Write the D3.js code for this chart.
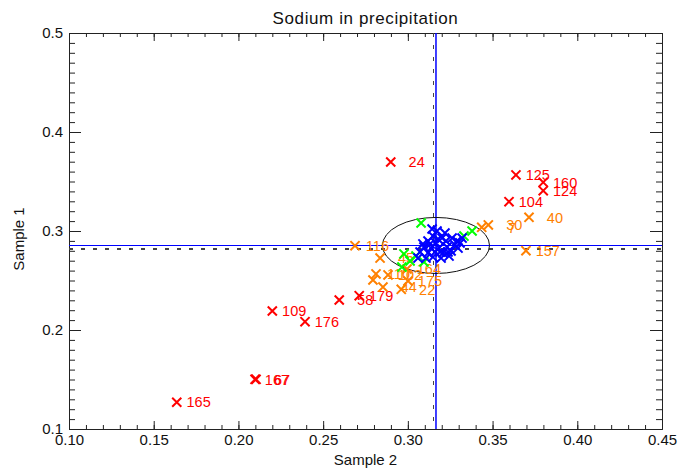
<!DOCTYPE html>
<html>
<head>
<meta charset="utf-8">
<script src="https://cdn.jsdelivr.net/npm/d3@7"></script>
<style>
  html, body { margin: 0; padding: 0; background: #fff; }
  svg { display: block; font-family: "Liberation Sans", Arial, sans-serif; }
</style>
</head>
<body>
<svg id="chart" width="679" height="470"></svg>
<script>
// ---- text ----
const chartTitle = "Sodium in precipitation";
const xTitle = "Sample 2";
const yTitle = "Sample 1";

// ---- axis ticks ----
const xMajor = [0.10, 0.15, 0.20, 0.25, 0.30, 0.35, 0.40, 0.45];
const xMinor = d3.range(10, 46).map(v => v / 100);
const yMajor = [0.1, 0.2, 0.3, 0.4, 0.5];
const yMinor = d3.range(10, 51).map(v => v / 100);

// ---- red samples (labelled) ----
const redIds = ["24", "165", "167", "67", "109", "176", "58", "179", "104", "125", "160", "124"];
const redX = [0.2899, 0.1636, 0.2098, 0.2104, 0.2200, 0.2393, 0.2595, 0.2713, 0.3597, 0.3638, 0.3799, 0.3799];
const redY = [0.3697, 0.1270, 0.1502, 0.1502, 0.2192, 0.2084, 0.2303, 0.2347, 0.3296, 0.3566, 0.3492, 0.3407];

// ---- orange samples (labelled, "" = no label) ----
const orangeIds = ["116", "45", "110", "102", "164", "175", "44", "22", "", "30", "7", "40", "157"];
const orangeX = [0.2688, 0.2836, 0.2812, 0.2883, 0.2995, 0.3001, 0.2853, 0.2961, 0.2794, 0.3475, 0.3436, 0.3715, 0.3697];
const orangeY = [0.2852, 0.2727, 0.2566, 0.2556, 0.2616, 0.2495, 0.2434, 0.2411, 0.2505, 0.3061, 0.3037, 0.3138, 0.2801];

// ---- green samples ----
const greenX = [0.3078, 0.2977, 0.3013, 0.3048, 0.3095, 0.2965, 0.3331, 0.3379];
const greenY = [0.3081, 0.2768, 0.2697, 0.2747, 0.2687, 0.2636, 0.2949, 0.3000];

// ---- blue samples ----
const blueX = [0.3172, 0.3148, 0.3202, 0.3119, 0.3166, 0.3225, 0.3261, 0.3290, 0.3095, 0.3137, 0.3184,
               0.3231, 0.3278, 0.3308, 0.3072, 0.3119, 0.3160, 0.3207, 0.3255, 0.3296, 0.3107, 0.3148,
               0.3196, 0.3243, 0.3131, 0.3178, 0.3219, 0.3089, 0.3143, 0.3237, 0.3320, 0.3060, 0.3190];
const blueY = [0.3000, 0.2949, 0.2929, 0.2899, 0.2879, 0.2899, 0.2929, 0.2899, 0.2838, 0.2828, 0.2828,
               0.2838, 0.2859, 0.2879, 0.2788, 0.2778, 0.2788, 0.2778, 0.2798, 0.2828, 0.2727, 0.2737,
               0.2727, 0.2747, 0.2869, 0.2919, 0.2980, 0.2869, 0.3020, 0.2788, 0.2929, 0.2727, 0.2788];

// ---- reference lines and ellipse ----
const meanX = 0.3166, meanY = 0.2854;
const medianX = 0.3150, medianY = 0.2818;
const ellipseRx = 0.0316, ellipseRy = 0.0283;

// ---- layout ----
const svg = d3.select("#chart");
const plotLeft = 69, plotRight = 662, plotTop = 33, plotBottom = 429;

const x = d3.scaleLinear().domain([0.10, 0.45]).range([plotLeft, plotRight]);
const y = d3.scaleLinear().domain([0.1, 0.5]).range([plotBottom, plotTop]);

const axisColor = "#222";
const majorX = 8, minorX = 4, majorY = 12, minorY = 6;

function styleAxis(g) {
  g.selectAll("path.domain").attr("stroke", axisColor).attr("stroke-width", 1);
  g.selectAll(".tick line").attr("stroke", axisColor).attr("stroke-width", 1);
  g.selectAll(".tick text").attr("fill", "#111").attr("font-size", 15)
    .attr("font-family", "'Liberation Sans', Arial, sans-serif");
}

// bottom axis: labelled major ticks + minor ticks, pointing inward
svg.append("g").attr("transform", `translate(0,${plotBottom})`)
  .call(d3.axisBottom(x).tickValues(xMinor).tickSize(-minorX).tickSizeOuter(0).tickFormat(""))
  .call(styleAxis);
svg.append("g").attr("transform", `translate(0,${plotBottom})`)
  .call(d3.axisBottom(x).tickValues(xMajor).tickSize(-majorX).tickSizeOuter(0)
    .tickPadding(5).tickFormat(d3.format(".2f")))
  .call(styleAxis);
// top axis
svg.append("g").attr("transform", `translate(0,${plotTop})`)
  .call(d3.axisTop(x).tickValues(xMinor).tickSize(-minorX).tickSizeOuter(0).tickFormat(""))
  .call(styleAxis);
svg.append("g").attr("transform", `translate(0,${plotTop})`)
  .call(d3.axisTop(x).tickValues(xMajor).tickSize(-majorX).tickSizeOuter(0).tickFormat(""))
  .call(styleAxis);
// left axis
svg.append("g").attr("transform", `translate(${plotLeft},0)`)
  .call(d3.axisLeft(y).tickValues(yMinor).tickSize(-minorY).tickSizeOuter(0).tickFormat(""))
  .call(styleAxis);
svg.append("g").attr("transform", `translate(${plotLeft},0)`)
  .call(d3.axisLeft(y).tickValues(yMajor).tickSize(-majorY).tickSizeOuter(0)
    .tickPadding(6).tickFormat(d3.format(".1f")))
  .call(styleAxis);
// right axis
svg.append("g").attr("transform", `translate(${plotRight},0)`)
  .call(d3.axisRight(y).tickValues(yMinor).tickSize(-minorY).tickSizeOuter(0).tickFormat(""))
  .call(styleAxis);
svg.append("g").attr("transform", `translate(${plotRight},0)`)
  .call(d3.axisRight(y).tickValues(yMajor).tickSize(-majorY).tickSizeOuter(0).tickFormat(""))
  .call(styleAxis);

// titles
svg.append("text").attr("x", (plotLeft + plotRight) / 2).attr("y", 24)
  .attr("text-anchor", "middle").attr("font-size", 17).attr("fill", "#111")
  .attr("letter-spacing", 0.6).text(chartTitle);
svg.append("text").attr("x", (plotLeft + plotRight) / 2).attr("y", 465)
  .attr("text-anchor", "middle").attr("font-size", 15).attr("fill", "#111").text(xTitle);
svg.append("text").attr("transform", `translate(24,${(plotTop + plotBottom) / 2 + 8}) rotate(-90)`)
  .attr("text-anchor", "middle").attr("font-size", 15).attr("fill", "#111").text(yTitle);

// median lines (dashed) and mean lines (blue)
const lines = svg.append("g");
lines.append("line").attr("x1", x(medianX)).attr("x2", x(medianX)).attr("y1", plotTop).attr("y2", plotBottom)
  .attr("stroke", "#444").attr("stroke-width", 1.5).attr("stroke-dasharray", "4,8")
  .attr("shape-rendering", "crispEdges");
lines.append("line").attr("x1", plotLeft).attr("x2", plotRight).attr("y1", y(medianY)).attr("y2", y(medianY))
  .attr("stroke", "#444").attr("stroke-width", 1.5).attr("stroke-dasharray", "4,8")
  .attr("shape-rendering", "crispEdges");
lines.append("line").attr("x1", x(meanX)).attr("x2", x(meanX)).attr("y1", plotTop).attr("y2", plotBottom)
  .attr("stroke", "#0000ff").attr("stroke-width", 1.5);
lines.append("line").attr("x1", plotLeft).attr("x2", plotRight).attr("y1", y(meanY)).attr("y2", y(meanY))
  .attr("stroke", "#0000ff").attr("stroke-width", 1).attr("shape-rendering", "crispEdges");

// ellipse around the mean
svg.append("ellipse")
  .attr("cx", x(meanX)).attr("cy", y(meanY))
  .attr("rx", x(meanX + ellipseRx) - x(meanX))
  .attr("ry", y(meanY) - y(meanY + ellipseRy))
  .attr("fill", "none").attr("stroke", "#111").attr("stroke-width", 1);

// markers
const cross = d3.symbol(d3.symbolTimes, 56);

function drawGroup(xs, ys, ids, color) {
  const data = xs.map((v, i) => ({ x: v, y: ys[i], id: ids ? ids[i] : "" }));
  const g = svg.append("g");
  g.selectAll("path").data(data).join("path")
    .attr("d", cross)
    .attr("transform", d => `translate(${x(d.x)},${y(d.y)})`)
    .attr("fill", "none").attr("stroke", color).attr("stroke-width", 2);
  // labels are right-aligned in a three-character field
  g.selectAll("text").data(data.filter(d => d.id !== "")).join("text")
    .attr("x", d => x(d.x) + 34).attr("y", d => y(d.y))
    .attr("dy", "0.36em").attr("text-anchor", "end")
    .attr("font-size", 14.5).attr("fill", color).text(d => d.id);
}

drawGroup(redX, redY, redIds, "#ff0000");
drawGroup(orangeX, orangeY, orangeIds, "#ff8000");
drawGroup(greenX, greenY, null, "#00ff00");
drawGroup(blueX, blueY, null, "#0000ff");
</script>
</body>
</html>
